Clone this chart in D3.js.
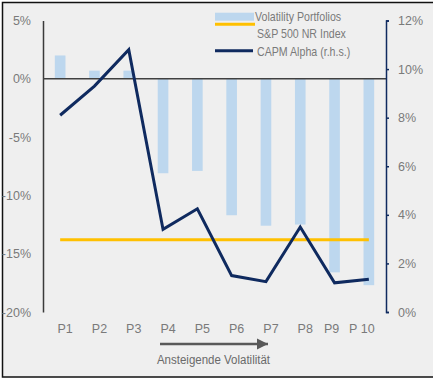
<!DOCTYPE html>
<html><head><meta charset="utf-8">
<script src="https://cdn.jsdelivr.net/npm/d3@7"></script>
<style>
html,body{margin:0;padding:0;background:#fff;}
text{font-family:"Liberation Sans",Arial,sans-serif;}
</style></head>
<body>
<svg id="c" width="433" height="379"></svg>
<script>
const categories = ["P1","P2","P3","P4","P5","P6","P7","P8","P9","P 10"];
const volatilityPortfolios = [2.0, 0.7, 0.7, -8.1, -7.9, -11.7, -12.6, -12.5, -16.6, -17.7];
const spIndex = [-13.8, -13.8, -13.8, -13.8, -13.8, -13.8, -13.8, -13.8, -13.8, -13.8];
const capmAlpha = [8.1, 9.3, 10.8, 3.4, 4.25, 1.5, 1.25, 3.5, 1.2, 1.35];
const leftTicks = [5, 0, -5, -10, -15, -20];
const rightTicks = [0, 2, 4, 6, 8, 10, 12];
const legendLabels = ["Volatility Portfolios", "S&P 500 NR Index", "CAPM Alpha (r.h.s.)"];
const arrowLabel = "Ansteigende Volatilität";

const svg = d3.select("#c");
const navy = "#0f2a5f", gold = "#ffc000", barC = "#bdd7ee", grey = "#7a7a7a";

svg.append("rect").attr("x",2.5).attr("y",2.5).attr("width",432).attr("height",374.5)
  .attr("fill","#efefef").attr("stroke","#111").attr("stroke-width",1.5);

const x = d3.scaleBand().domain(categories).range([43,386]).paddingInner(0.69).paddingOuter(0.345);
const xc = d => x(d) + x.bandwidth()/2;
const yL = d3.scaleLinear().domain([-20,5]).range([312,20.5]);
const yR = d3.scaleLinear().domain([0,12]).range([312,20.5]);

// bars
svg.append("g").selectAll("rect").data(volatilityPortfolios).join("rect")
  .attr("x",(d,i)=>x(categories[i]))
  .attr("width",x.bandwidth())
  .attr("y",d=>yL(Math.max(0,d)))
  .attr("height",d=>Math.abs(yL(d)-yL(0)))
  .attr("fill",barC);

// left axis
const gL = svg.append("g").attr("transform","translate(43,0)")
  .call(d3.axisLeft(yL).tickValues(leftTicks).tickSize(0).tickPadding(12).tickFormat(d=>d+"%"));
gL.select(".domain").attr("stroke","#3a3a3a").attr("stroke-width",1.5);
gL.selectAll("text").attr("fill",grey).attr("font-size",12.5);

// zero line
svg.append("line").attr("x1",43).attr("x2",386).attr("y1",yL(0)).attr("y2",yL(0))
  .attr("stroke","#404040").attr("stroke-width",1.5);

// right axis
const gR = svg.append("g").attr("transform","translate(386,0)")
  .call(d3.axisRight(yR).tickValues(rightTicks).tickSize(3).tickSizeOuter(3).tickPadding(9).tickFormat(d=>d+"%"));
gR.select(".domain").attr("stroke",navy).attr("stroke-width",1.5);
gR.selectAll(".tick line").attr("stroke",navy).attr("stroke-width",1.5);
gR.selectAll("text").attr("fill",grey).attr("font-size",12.5);

// S&P line
svg.append("path").datum(spIndex)
  .attr("d",d3.line().x((d,i)=>xc(categories[i])).y(d=>yL(d)))
  .attr("fill","none").attr("stroke",gold).attr("stroke-width",3);

// CAPM alpha line
svg.append("path").datum(capmAlpha)
  .attr("d",d3.line().x((d,i)=>xc(categories[i])).y(d=>yR(d)))
  .attr("fill","none").attr("stroke",navy).attr("stroke-width",3).attr("stroke-linejoin","miter");

// category labels
svg.append("g").selectAll("text").data(categories).join("text")
  .attr("x",(d,i)=>xc(d) + (i<8 ? 5 : (i===8 ? -3 : -7)))
  .attr("y",333).attr("text-anchor","middle").attr("font-size",12.5).attr("fill",grey)
  .text(d=>d);

// arrow
const defs = svg.append("defs");
defs.append("marker").attr("id","ah").attr("viewBox","0 0 10 10").attr("refX",10).attr("refY",5)
  .attr("markerWidth",4.5).attr("markerHeight",4.5).attr("orient","auto").attr("markerUnits","strokeWidth")
  .append("path").attr("d","M0,0L10,5L0,10z").attr("fill","#595959");
svg.append("line").attr("x1",160).attr("x2",268).attr("y1",344).attr("y2",344)
  .attr("stroke","#595959").attr("stroke-width",2.5).attr("marker-end","url(#ah)");
svg.append("text").attr("x",213.5).attr("y",364).attr("text-anchor","middle")
  .attr("transform","translate(213.5,0) scale(0.92,1) translate(-213.5,0)")
  .attr("font-size",12.5).attr("fill","#6a6a6a").text(arrowLabel);

// legend
const lg = svg.append("g");
lg.append("rect").attr("x",215).attr("y",12.7).attr("width",39).attr("height",8).attr("fill",barC);
lg.append("line").attr("x1",215).attr("x2",255).attr("y1",24.3).attr("y2",24.3).attr("stroke",gold).attr("stroke-width",3);
lg.append("line").attr("x1",215).attr("x2",253).attr("y1",50.7).attr("y2",50.7).attr("stroke",navy).attr("stroke-width",3);
const lt = [[255,21],[257,38],[257,56]];
lg.selectAll("text").data(legendLabels).join("text")
  .attr("x",(d,i)=>lt[i][0]).attr("y",(d,i)=>lt[i][1])
  .attr("transform",(d,i)=>`translate(${lt[i][0]},0) scale(0.85,1) translate(${-lt[i][0]},0)`)
  .attr("font-size",12.5).attr("fill",grey).text(d=>d);
</script>
</body></html>
